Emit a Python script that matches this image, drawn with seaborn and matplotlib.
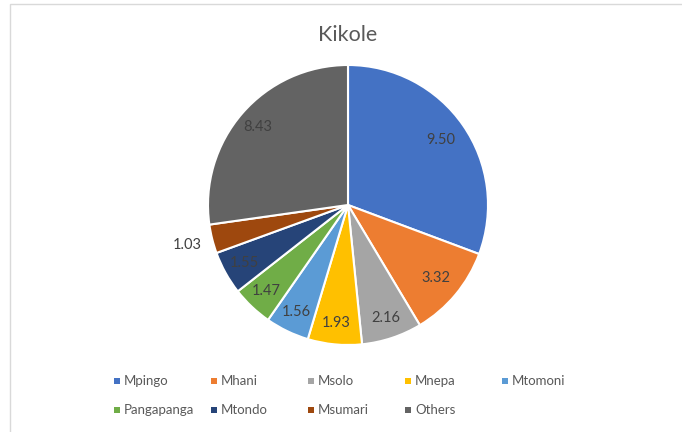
import matplotlib
matplotlib.use("Agg")
import matplotlib.pyplot as plt
from matplotlib.patches import Rectangle
import seaborn as sns
import numpy as np

# Species shares for Kikole
categories = ["Mpingo", "Mhani", "Msolo", "Mnepa", "Mtomoni",
              "Pangapanga", "Mtondo", "Msumari", "Others"]
values = [9.50, 3.32, 2.16, 1.93, 1.56, 1.47, 1.55, 1.03, 8.43]
title = "Kikole"

sns.set_theme(style="white")
plt.rcParams["font.family"] = ["Lato", "DejaVu Sans"]

palette = sns.color_palette(["#4472C4", "#ED7D31", "#A5A5A5", "#FFC000",
                             "#5B9BD5", "#70AD47", "#264478", "#9E480E",
                             "#636363"])
text_color = "#595959"
label_color = "#404040"

W, H = 682, 432
fig = plt.figure(figsize=(W / 100, H / 100), dpi=100)
fig.patch.set_facecolor("white")

# chart-area frame
fig.patches.append(Rectangle((10 / W, -0.05), 1.2, (H - 4) / H + 0.05,
                             transform=fig.transFigure, fill=False,
                             edgecolor="#D9D9D9", linewidth=1.0))

# pie axes: centre (348, 205) px, radius 140 px
cx, cy, r = 348, 205, 140
ax = fig.add_axes([(cx - r) / W, (H - cy - r) / H, 2 * r / W, 2 * r / H])
wedges, _ = ax.pie(values, colors=palette, startangle=90, counterclock=False,
                   radius=1.0,
                   wedgeprops=dict(edgecolor="white", linewidth=1.5))
ax.set_xlim(-1, 1)
ax.set_ylim(-1, 1)
ax.set_aspect("equal")
ax.axis("off")

# data labels: inside the slice, small Msumari slice outside
label_dist = {"Mpingo": 0.81, "Mhani": 0.82, "Msumari": 1.18}
for w, name, v in zip(wedges, categories, values):
    mid = np.deg2rad((w.theta1 + w.theta2) / 2)
    d = label_dist.get(name, 0.85)
    ax.text(d * np.cos(mid), d * np.sin(mid), f"{v:.2f}",
            ha="center", va="center", fontsize=10.5, color=label_color)

fig.text(cx / W, 1 - 35 / H, title, ha="center", va="center",
         fontsize=15.5, color=text_color)

# legend laid out on an even grid of 5 columns
x0, dx = 117, 97
rows_y = [381, 410]
for i, (name, col) in enumerate(zip(categories, palette)):
    row, c = divmod(i, 5)
    x = x0 + c * dx
    y = rows_y[row]
    fig.patches.append(Rectangle(((x - 3) / W, (H - y - 3) / H), 6 / W, 6 / H,
                                 transform=fig.transFigure, facecolor=col,
                                 edgecolor="none"))
    fig.text((x + 7) / W, 1 - y / H, name, ha="left", va="center",
             fontsize=9.5, color=text_color)

fig.savefig("out.png", dpi=100, facecolor="white")
